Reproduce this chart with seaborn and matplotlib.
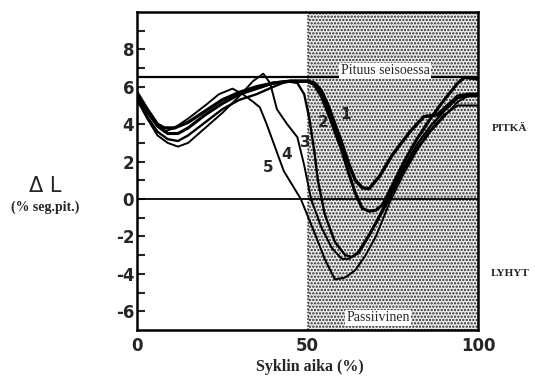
import matplotlib
matplotlib.use("Agg")
import matplotlib.pyplot as plt
import seaborn as sns
import pandas as pd

# Muscle segment length change over the gait cycle, five muscles
x1 = [0, 3, 6, 8, 11, 15, 20, 25, 30, 35, 40, 45, 50, 52, 54, 56, 58, 60, 62, 64, 66, 68, 71, 75, 80, 84, 88, 91, 94, 97, 100]
y1 = [5.7, 4.8, 4.0, 3.8, 3.8, 4.1, 4.7, 5.3, 5.7, 6.0, 6.2, 6.3, 6.3, 6.2, 5.8, 5.0, 4.0, 3.0, 1.9, 1.0, 0.6, 0.55, 1.2, 2.4, 3.6, 4.4, 4.5, 5.0, 5.5, 5.6, 5.6]

x2 = [0, 3, 6, 9, 12, 15, 20, 25, 30, 35, 40, 45, 50, 52, 54, 56, 58, 60, 62, 64, 66, 68, 70, 72, 75, 78, 82, 86, 90, 94, 96, 100]
y2 = [5.6, 4.7, 3.9, 3.5, 3.5, 3.8, 4.5, 5.1, 5.6, 5.9, 6.2, 6.3, 6.3, 6.1, 5.5, 4.6, 3.6, 2.6, 1.4, 0.3, -0.5, -0.65, -0.6, -0.3, 0.8, 1.9, 3.2, 4.3, 5.3, 6.2, 6.5, 6.4]

x3 = [0, 3, 6, 9, 12, 15, 20, 25, 30, 35, 40, 44, 47, 49, 50.5, 52, 53, 55, 58, 61, 63, 65, 68, 71, 74, 78, 82, 86, 90, 94, 97, 100]
y3 = [5.4, 4.4, 3.6, 3.2, 3.1, 3.4, 4.1, 4.8, 5.3, 5.6, 6.0, 6.3, 6.2, 5.6, 4.3, 2.5, 1.0, -0.8, -2.3, -3.0, -3.1, -2.8, -1.9, -0.9, 0.2, 1.6, 2.9, 3.9, 4.7, 5.4, 5.5, 5.5]

x4 = [0, 3, 6, 9, 12, 15, 20, 25, 30, 34, 37, 39, 41, 44, 47, 49, 51, 54, 57, 60, 62, 65, 68, 71, 74, 78, 82, 86, 90, 94, 97, 100]
y4 = [5.3, 4.3, 3.4, 3.0, 2.8, 3.0, 3.8, 4.6, 5.5, 6.3, 6.7, 6.2, 4.8, 4.0, 3.3, 1.8, 0.0, -1.5, -2.6, -3.2, -3.2, -2.9, -2.0, -1.0, 0.0, 1.5, 2.7, 3.7, 4.5, 5.0, 5.0, 5.0]

x5 = [0, 3, 6, 8, 11, 15, 20, 24, 28, 31, 34, 36, 38, 40, 43, 46, 48, 52, 55, 58, 61, 64, 67, 70, 74, 78, 82, 86, 90, 94, 97, 100]
y5 = [5.5, 4.6, 3.9, 3.6, 3.8, 4.3, 5.0, 5.6, 5.9, 5.6, 5.2, 4.9, 4.0, 3.0, 1.5, 0.6, 0.0, -1.8, -3.2, -4.3, -4.2, -3.8, -3.0, -2.0, -0.2, 1.3, 2.6, 3.6, 4.4, 5.2, 5.5, 5.5]

curve_names = ["1", "2", "3", "4", "5"]
xs = [x1, x2, x3, x4, x5]
ys = [y1, y2, y3, y4, y5]

standing_length = 6.5
y_ticks = [-6, -4, -2, 0, 2, 4, 6, 8]
x_ticks = [0, 50, 100]

sns.set_theme(style="white")
plt.rcParams["axes.unicode_minus"] = False
plt.rcParams["hatch.linewidth"] = 1.1
plt.rcParams["hatch.color"] = "#282828"

fig = plt.figure(figsize=(5.35, 3.85), dpi=100)
ax = fig.add_axes([0.256, 0.143, 0.638, 0.826])

# Passive phase: stippled half of the cycle
ax.axvspan(50, 100, facecolor="#ececec", edgecolor="#282828", hatch=".....",
           linewidth=0, zorder=0)
ax.axvline(50, color="#444444", lw=1.2, ls=(0, (1, 1)), zorder=1)

ax.axhline(standing_length, color="black", lw=1.6, zorder=2)
ax.axhline(0, color="black", lw=1.3, zorder=2)

widths = [2.4, 2.2, 1.7, 1.4, 1.4]
frames = []
for name, xv, yv in zip(curve_names, xs, ys):
    frames.append(pd.DataFrame({"aika": xv, "dL": yv, "käyrä": name}))
df = pd.concat(frames, ignore_index=True)
for name, lw in zip(curve_names, widths):
    sns.lineplot(data=df[df["käyrä"] == name], x="aika", y="dL", color="black",
                 lw=lw, sort=False, estimator=None, ax=ax, zorder=4)

ax.set_xlim(0, 100)
ax.set_ylim(-7, 10)
ax.set_xlabel("")
ax.set_ylabel("")
ax.set_xticks(x_ticks)
ax.set_xticklabels([str(v) for v in x_ticks])
ax.set_yticks(y_ticks)
ax.set_yticklabels([str(v) for v in y_ticks])
ax.set_yticks([-5, -3, -1, 1, 3, 5, 7, 9], minor=True)
ax.tick_params(axis="y", which="both", direction="in", length=6, width=1.5,
               left=True, pad=2)
ax.tick_params(axis="x", length=0, pad=5)
for lab in ax.get_xticklabels() + ax.get_yticklabels():
    lab.set_fontfamily("DejaVu Sans")
    lab.set_fontweight("bold")
    lab.set_fontsize(12)

for side, sp in ax.spines.items():
    sp.set_visible(True)
    sp.set_color("black")
    sp.set_linewidth(1.8)

serif = "Liberation Serif"
ax.text(72.7, 6.85, "Pituus seisoessa", ha="center", va="center", fontsize=10,
        family=serif, zorder=5,
        bbox=dict(facecolor="white", edgecolor="none", pad=1.0))
ax.text(70.7, -6.35, "Passiivinen", ha="center", va="center", fontsize=10,
        family=serif, zorder=5,
        bbox=dict(facecolor="white", edgecolor="none", pad=1.0))

# Curve numbers
label_pos = {"1": (61.2, 4.5), "2": (54.4, 4.1), "3": (49.3, 3.0),
             "4": (43.8, 2.4), "5": (38.4, 1.7)}
for name, (lx, ly) in label_pos.items():
    ax.text(lx, ly, name, ha="center", va="center", fontsize=11,
            family="DejaVu Sans", fontweight="bold", zorder=6)

fig.text(510 / 535, 1 - 128 / 385, "PITKÄ", ha="center", va="center",
         fontsize=8, family=serif, fontweight="bold")
fig.text(510 / 535, 1 - 273 / 385, "LYHYT", ha="center", va="center",
         fontsize=8, family=serif, fontweight="bold")

fig.text(45 / 535, 1 - 186 / 385, "Δ L", ha="center", va="center",
         fontsize=15, family="DejaVu Sans")
fig.text(45 / 535, 1 - 207 / 385, "(% seg.pit.)", ha="center", va="center",
         fontsize=10, family=serif, fontweight="bold")
fig.text(310 / 535, 1 - 367 / 385, "Syklin aika (%)", ha="center", va="center",
         fontsize=11.5, family=serif, fontweight="bold")

fig.savefig("out.png", dpi=100)
